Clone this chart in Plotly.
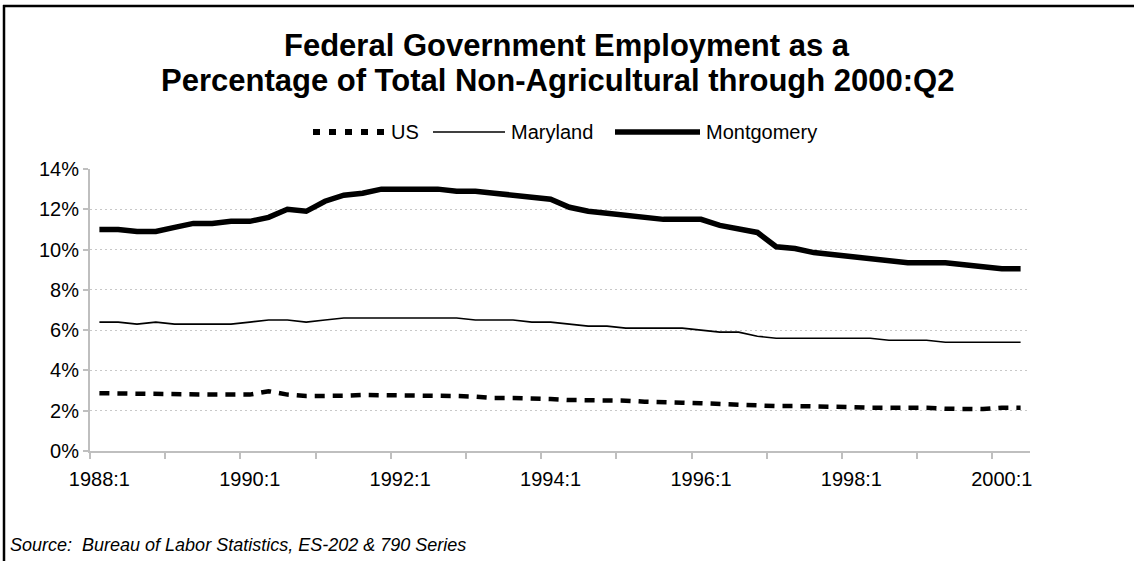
import plotly.graph_objects as go

quarters = [
    "1988:1","1988:2","1988:3","1988:4","1989:1","1989:2","1989:3","1989:4",
    "1990:1","1990:2","1990:3","1990:4","1991:1","1991:2","1991:3","1991:4",
    "1992:1","1992:2","1992:3","1992:4","1993:1","1993:2","1993:3","1993:4",
    "1994:1","1994:2","1994:3","1994:4","1995:1","1995:2","1995:3","1995:4",
    "1996:1","1996:2","1996:3","1996:4","1997:1","1997:2","1997:3","1997:4",
    "1998:1","1998:2","1998:3","1998:4","1999:1","1999:2","1999:3","1999:4",
    "2000:1","2000:2",
]

us = [2.87, 2.85, 2.85, 2.85, 2.8, 2.8, 2.8, 2.8, 2.8, 2.97,
      2.8, 2.73, 2.72, 2.74, 2.78, 2.78, 2.78, 2.78, 2.74, 2.73,
      2.7, 2.63, 2.63, 2.63, 2.58, 2.53, 2.53, 2.5, 2.5, 2.45,
      2.45, 2.4, 2.37, 2.33, 2.33, 2.3, 2.23, 2.23, 2.23, 2.18,
      2.18, 2.15, 2.16, 2.18, 2.15, 2.1, 2.08, 2.08, 2.15, 2.15]

maryland = [6.4, 6.4, 6.3, 6.4, 6.3, 6.3, 6.3, 6.3, 6.4, 6.5,
            6.5, 6.4, 6.5, 6.6, 6.6, 6.6, 6.6, 6.6, 6.6, 6.6,
            6.5, 6.5, 6.5, 6.4, 6.4, 6.3, 6.2, 6.2, 6.1, 6.1,
            6.1, 6.1, 6.0, 5.9, 5.9, 5.7, 5.6, 5.6, 5.6, 5.6,
            5.6, 5.6, 5.5, 5.5, 5.5, 5.4, 5.4, 5.4, 5.4, 5.4]

montgomery = [11.0, 11.0, 10.9, 10.9, 11.1, 11.3, 11.3, 11.4, 11.4, 11.6,
              12.0, 11.9, 12.4, 12.7, 12.8, 13.0, 13.0, 13.0, 13.0, 12.9,
              12.9, 12.8, 12.7, 12.6, 12.5, 12.1, 11.9, 11.8, 11.7, 11.6,
              11.5, 11.5, 11.5, 11.2, 11.05, 10.85, 10.14, 10.05, 9.85, 9.75,
              9.65, 9.55, 9.45, 9.35, 9.35, 9.35, 9.25, 9.15, 9.05, 9.05]

tick_labels = ["1988:1", "1990:1", "1992:1", "1994:1", "1996:1", "1998:1", "2000:1"]
y_ticks = [0, 2, 4, 6, 8, 10, 12, 14]

x = list(range(len(quarters)))
label_pos = [quarters.index(t) for t in tick_labels]
year_bounds = [i - 0.5 for i in x if quarters[i].endswith(":1")]

W, H = 1134, 561
L, R, T, B = 90, 1030, 169, 451
FONT = "Liberation Sans, Arial, sans-serif"


def px(xp):
    return (xp - L) / (R - L)


def py(yp):
    return (B - yp) / (B - T)


fig = go.Figure()
fig.add_trace(go.Scatter(x=x, y=us, mode="lines", name="US",
                         line=dict(color="black", width=4.5, dash="10px,8px")))
fig.add_trace(go.Scatter(x=x, y=maryland, mode="lines", name="Maryland",
                         line=dict(color="black", width=1.6)))
fig.add_trace(go.Scatter(x=x, y=montgomery, mode="lines", name="Montgomery",
                         line=dict(color="black", width=5.5)))

shapes = []
annotations = []

# outer frame (left and top)
shapes.append(dict(type="line", xref="paper", yref="paper",
                   x0=px(4), x1=px(4), y0=py(5), y1=py(561),
                   line=dict(color="black", width=2.5)))
shapes.append(dict(type="line", xref="paper", yref="paper",
                   x0=px(3), x1=px(1134), y0=py(6), y1=py(6),
                   line=dict(color="black", width=2.5)))

# title
annotations.append(dict(text="<b>Federal Government Employment as a</b>",
                        xref="paper", yref="paper", x=px(567), y=py(45),
                        showarrow=False, font=dict(family=FONT, size=31, color="black"),
                        xanchor="center", yanchor="middle"))
annotations.append(dict(text="<b>Percentage of Total Non-Agricultural through 2000:Q2</b>",
                        xref="paper", yref="paper", x=px(557), y=py(80),
                        showarrow=False, font=dict(family=FONT, size=31, color="black"),
                        xanchor="center", yanchor="middle"))

# legend (custom)
LEG_Y = 132
legend_items = [
    ("US", 313, 385, dict(color="black", width=6, dash="7px,9px")),
    ("Maryland", 433, 505, dict(color="black", width=1.6)),
    ("Montgomery", 615, 700, dict(color="black", width=5.5)),
]
for name, x0, x1, ln in legend_items:
    shapes.append(dict(type="line", xref="paper", yref="paper",
                       x0=px(x0), x1=px(x1), y0=py(LEG_Y), y1=py(LEG_Y), line=ln))
    annotations.append(dict(text=name, xref="paper", yref="paper",
                            x=px(x1 + 4), y=py(LEG_Y), showarrow=False,
                            xanchor="left", yanchor="middle",
                            font=dict(family=FONT, size=20, color="black")))

# source
annotations.append(dict(text="<i>Source:  Bureau of Labor Statistics, ES-202 &amp; 790 Series</i>",
                        xref="paper", yref="paper", x=px(8), y=py(545),
                        showarrow=False, xanchor="left", yanchor="middle",
                        font=dict(family=FONT, size=18, color="black")))

fig.update_layout(
    width=W, height=H,
    margin=dict(l=L, r=W - R, t=T, b=H - B, pad=0),
    paper_bgcolor="white", plot_bgcolor="white",
    showlegend=False,
    shapes=shapes, annotations=annotations,
    font=dict(family=FONT, size=20, color="black"),
)

fig.update_xaxes(
    range=[-0.5, len(quarters) - 0.5],
    tickmode="array", tickvals=label_pos, ticktext=tick_labels,
    ticks="", showgrid=False, zeroline=False,
    showline=True, linecolor="#bfbfbf", linewidth=2,
    tickfont=dict(family=FONT, size=20, color="black"),
    ticklabelstandoff=9,
    minor=dict(tickmode="array", tickvals=year_bounds, ticks="outside",
               ticklen=6, tickwidth=2, tickcolor="#bfbfbf", showgrid=False),
)

fig.update_yaxes(
    range=[0, 14], tickmode="array", tickvals=y_ticks,
    ticktext=[f"{v}%" for v in y_ticks],
    ticks="outside", ticklen=5, tickwidth=2, tickcolor="#bfbfbf",
    showline=True, linecolor="#bfbfbf", linewidth=2,
    showgrid=True, gridcolor="#c8c8c8", gridwidth=1, griddash="2px,3px",
    zeroline=False,
    tickfont=dict(family=FONT, size=20, color="black"),
)

fig.write_html("out.html")
